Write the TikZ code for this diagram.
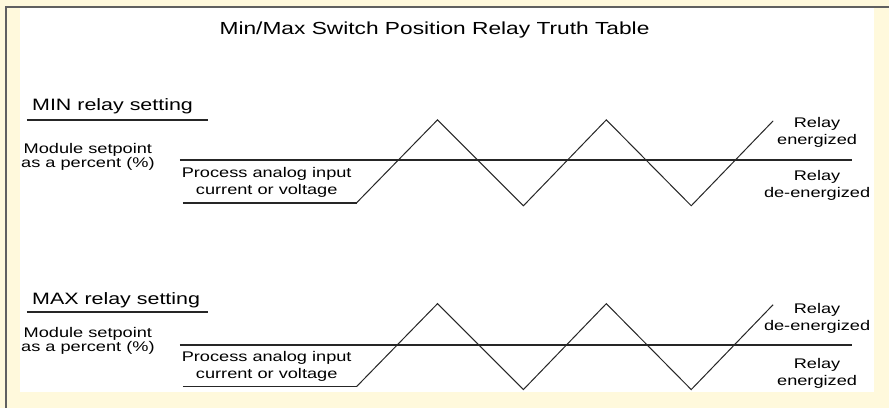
\documentclass[tikz,border=0pt]{standalone}
\usepackage{fontspec}
\setmainfont[FakeStretch=1.3]{Liberation Sans}
\definecolor{paper}{RGB}{255,249,220}
\definecolor{frameline}{RGB}{96,96,96}
\tikzset{
  lbl/.style={inner sep=0pt, align=center, anchor=base, font=\fontsize{14}{17}\selectfont},
  tight/.style={font=\fontsize{14}{14}\selectfont},
  head/.style={inner sep=0pt, anchor=base west, font=\fontsize{16.5}{20}\selectfont},
  title/.style={inner sep=0pt, anchor=base, font=\fontsize{17.5}{20}\selectfont},
  rule/.style={line width=1.8pt, black!85},
  wave/.style={line width=1pt, black!85, line join=miter}
}
\begin{document}
\begin{tikzpicture}[x=1pt, y=-1pt]
    \fill[paper] (0,0) rectangle (890,408);
    \fill[white] (20,8) rectangle (875,392);
    \draw[frameline, line width=2pt] (6,408) -- (6,7) -- (890,7);
    \useasboundingbox (0,0) rectangle (890,408);

    \node[title] (ttl) at (435,35) {Min/Max Switch Position Relay Truth Table};

    % MIN relay setting
    \node[head] (minhd) at (32,111) {MIN relay setting};
    \coordinate (minul1) at (27,120);
    \coordinate (minul2) at (208,120);
    \draw[rule] (minul1) -- (minul2);

    \node[lbl, tight] (minsp) at (88,168) {Module setpoint\\as a percent (\%)};
    \node[lbl] (minpv) at (267,195) {Process analog input\\current or voltage};
    \coordinate (minsp1) at (180,160);
    \coordinate (minsp2) at (853,160);
    \draw[rule] (minsp1) -- (minsp2);

    \coordinate (minpv1) at (183,203);
    \coordinate (minw0) at (357,203);
    \coordinate (minw1) at (438,120);
    \coordinate (minw2) at (524,206);
    \coordinate (minw3) at (607,120);
    \coordinate (minw4) at (692,206);
    \coordinate (minw5) at (774,121);
    \draw[rule] (minpv1) -- (minw0);
    \draw[wave] (minw0) -- (minw1) -- (minw2) -- (minw3) -- (minw4) -- (minw5);

    \node[lbl] (minon)  at (818,145) {Relay\\energized};
    \node[lbl] (minoff) at (818,198) {Relay\\de-energized};

    % MAX relay setting
    \node[head] (maxhd) at (32,305) {MAX relay setting};
    \coordinate (maxul1) at (27,312);
    \coordinate (maxul2) at (208,312);
    \draw[rule] (maxul1) -- (maxul2);

    \node[lbl, tight] (maxsp) at (88,352) {Module setpoint\\as a percent (\%)};
    \node[lbl] (maxpv) at (267,379) {Process analog input\\current or voltage};
    \coordinate (maxsp1) at (180,345);
    \coordinate (maxsp2) at (853,345);
    \draw[rule] (maxsp1) -- (maxsp2);

    \coordinate (maxpv1) at (183,387);
    \coordinate (maxw0) at (357,387);
    \coordinate (maxw1) at (438,304);
    \coordinate (maxw2) at (524,390);
    \coordinate (maxw3) at (607,304);
    \coordinate (maxw4) at (692,390);
    \coordinate (maxw5) at (774,305);
    \draw[rule] (maxpv1) -- (maxw0);
    \draw[wave] (maxw0) -- (maxw1) -- (maxw2) -- (maxw3) -- (maxw4) -- (maxw5);

    \node[lbl] (maxoff) at (818,331) {Relay\\de-energized};
    \node[lbl] (maxon)  at (818,386) {Relay\\energized};
\end{tikzpicture}
\end{document}
